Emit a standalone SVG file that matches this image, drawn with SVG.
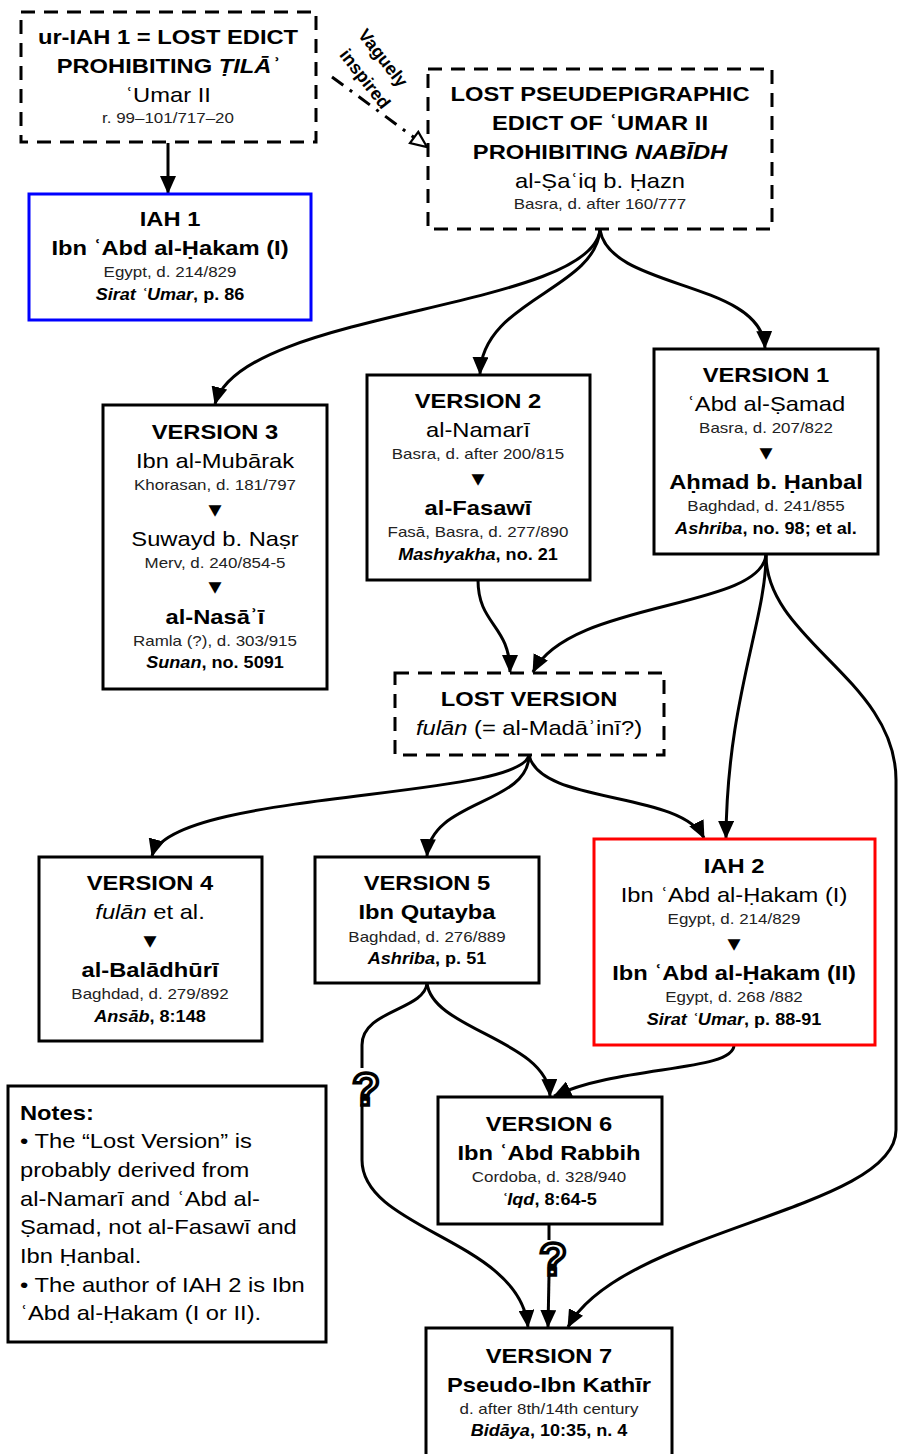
<svg xmlns="http://www.w3.org/2000/svg" width="898" height="1454" viewBox="0 0 898 1454">
<style>
text { font-family: "Liberation Sans", Arial, "DejaVu Sans", sans-serif; text-anchor: middle; fill: #000; }
.h { font-size: 21px; font-weight: bold; }
.n { font-size: 21px; }
.s { font-size: 15px; fill: #222; }
.c { font-size: 16px; font-weight: bold; }
.i { font-style: italic; }
.tri { font-family: "DejaVu Sans", sans-serif; font-size: 15px; }
.l { text-anchor: start; }
.box { fill: #fff; stroke: #000; stroke-width: 3; }
.dash { stroke-dasharray: 14 9; }
.blue { stroke: #0000ff; }
.red { stroke: #ff0000; }
.edge { fill: none; stroke: #000; stroke-width: 3; }
.arr { marker-end: url(#ah); }
.q { font-size: 46px; font-weight: bold; fill: #fff; stroke: #000; stroke-width: 3.5; }
.vi { font-size: 18px; font-weight: bold; }
</style>
<defs>
<marker id="ah" markerUnits="userSpaceOnUse" markerWidth="18" markerHeight="16" refX="17" refY="8" orient="auto">
<path d="M0,0 L18,8 L0,16 z" fill="#000"/>
</marker>
<marker id="oh" markerUnits="userSpaceOnUse" markerWidth="20" markerHeight="18" refX="18" refY="9" orient="auto">
<path d="M2,2 L18,9 L2,16 z" fill="#fff" stroke="#000" stroke-width="2.2"/>
</marker>
</defs>

<g id="connectors">
<path class="edge arr" d="M168,143 L168,193"/>
<path class="edge" d="M332,77 L427,147" stroke-dasharray="14 8 3 8" marker-end="url(#oh)"/>
<path class="edge arr" d="M600,230 C590,310 240,310 215,404"/>
<path class="edge arr" d="M600,230 C595,290 482,300 480,374"/>
<path class="edge arr" d="M600,230 C610,290 762,280 765,348"/>
<path class="edge arr" d="M478,580 C478,625 510,625 510,672"/>
<path class="edge arr" d="M766,555 C760,610 570,600 533,672"/>
<path class="edge arr" d="M766,555 C766,620 727,700 726,838"/>
<path class="edge arr" d="M766,555 C766,640 896,680 896,780 L896,1130 C896,1210 620,1230 568,1327"/>
<path class="edge arr" d="M529,755 C520,800 170,790 152,856"/>
<path class="edge arr" d="M529,755 C529,805 430,800 427,856"/>
<path class="edge arr" d="M529,755 C540,805 680,790 704,838"/>
<path class="edge arr" d="M427,983 C432,1030 548,1040 550,1096"/>
<path class="edge arr" d="M734,1045 C734,1072 620,1065 554,1096"/>
<path class="edge" d="M427,983 C425,1010 362,1010 362,1045 L362,1068"/>
<path class="edge arr" d="M362,1104 L362,1160 C362,1230 520,1240 528,1327"/>
<path class="edge" d="M549,1224 L549,1240"/>
<path class="edge arr" d="M549,1276 L548,1327"/>
<text class="q" x="366" y="1105">?</text>
<text class="q" x="553" y="1275">?</text>
<text class="vi" transform="translate(383 58) rotate(52)" y="6">Vaguely</text>
<text class="vi" transform="translate(365 79) rotate(52)" y="6">inspired</text>
</g>

<g id="ur-iah1">
<rect class="box dash" x="21" y="12" width="295" height="130"/>
<g transform="translate(168 0) scale(1.13 1)">
<text class="h" y="44.5">ur-IAH 1 = LOST EDICT</text>
<text class="h" y="73.5">PROHIBITING <tspan class="i">ṬILĀʾ</tspan></text>
<text class="n" y="102.5">ʿUmar II</text>
<text class="s" y="123.5">r. 99–101/717–20</text>
</g>
</g>

<g id="iah1">
<rect class="box blue" x="29" y="194" width="282" height="126"/>
<g transform="translate(170 0) scale(1.13 1)">
<text class="h" y="226.5">IAH 1</text>
<text class="h" y="255.5">Ibn ʿAbd al-Ḥakam (I)</text>
<text class="s" y="277.5">Egypt, d. 214/829</text>
<text class="c" y="300.5"><tspan class="i">Sirat ʿUmar</tspan>, p. 86</text>
</g>
</g>

<g id="lost-pseudepigraphic">
<rect class="box dash" x="428" y="69" width="344" height="160"/>
<g transform="translate(600 0) scale(1.13 1)">
<text class="h" y="101.5">LOST PSEUDEPIGRAPHIC</text>
<text class="h" y="130.5">EDICT OF ʿUMAR II</text>
<text class="h" y="159.5">PROHIBITING <tspan class="i">NABĪDH</tspan></text>
<text class="n" y="188.5">al-Ṣaʿiq b. Ḥazn</text>
<text class="s" y="209.5">Basra, d. after 160/777</text>
</g>
</g>

<g id="version3">
<rect class="box" x="103" y="405" width="224" height="284"/>
<g transform="translate(215 0) scale(1.13 1)">
<text class="h" y="439.5">VERSION 3</text>
<text class="n" y="468.5">Ibn al-Mubārak</text>
<text class="s" y="490.5">Khorasan, d. 181/797</text>
<text class="tri" y="515">▼</text>
<text class="n" y="546.5">Suwayd b. Naṣr</text>
<text class="s" y="568.5">Merv, d. 240/854-5</text>
<text class="tri" y="592">▼</text>
<text class="h" y="624.5">al-Nasāʾī</text>
<text class="s" y="646.5">Ramla (?), d. 303/915</text>
<text class="c" y="668"><tspan class="i">Sunan</tspan>, no. 5091</text>
</g>
</g>

<g id="version2">
<rect class="box" x="367" y="375" width="223" height="205"/>
<g transform="translate(478 0) scale(1.13 1)">
<text class="h" y="408.5">VERSION 2</text>
<text class="n" y="437.5">al-Namarī</text>
<text class="s" y="459.5">Basra, d. after 200/815</text>
<text class="tri" y="484">▼</text>
<text class="h" y="515.5">al-Fasawī</text>
<text class="s" y="537.5">Fasā, Basra, d. 277/890</text>
<text class="c" y="560"><tspan class="i">Mashyakha</tspan>, no. 21</text>
</g>
</g>

<g id="version1">
<rect class="box" x="654" y="349" width="224" height="205"/>
<g transform="translate(766 0) scale(1.13 1)">
<text class="h" y="382.5">VERSION 1</text>
<text class="n" y="411.5">ʿAbd al-Ṣamad</text>
<text class="s" y="433.5">Basra, d. 207/822</text>
<text class="tri" y="458">▼</text>
<text class="h" y="489.5">Aḥmad b. Ḥanbal</text>
<text class="s" y="511.5">Baghdad, d. 241/855</text>
<text class="c" y="534"><tspan class="i">Ashriba</tspan>, no. 98; et al.</text>
</g>
</g>

<g id="lost-version">
<rect class="box dash" x="395" y="673" width="269" height="82"/>
<g transform="translate(529 0) scale(1.13 1)">
<text class="h" y="706.5">LOST VERSION</text>
<text class="n" y="735.5"><tspan class="i">fulān</tspan> (= al-Madāʾinī?)</text>
</g>
</g>

<g id="version4">
<rect class="box" x="39" y="857" width="223" height="184"/>
<g transform="translate(150 0) scale(1.13 1)">
<text class="h" y="890.5">VERSION 4</text>
<text class="n" y="919.5"><tspan class="i">fulān</tspan> et al.</text>
<text class="tri" y="946">▼</text>
<text class="h" y="977.5">al-Balādhūrī</text>
<text class="s" y="999.5">Baghdad, d. 279/892</text>
<text class="c" y="1022"><tspan class="i">Ansāb</tspan>, 8:148</text>
</g>
</g>

<g id="version5">
<rect class="box" x="315" y="857" width="224" height="126"/>
<g transform="translate(427 0) scale(1.13 1)">
<text class="h" y="890.5">VERSION 5</text>
<text class="h" y="919.5">Ibn Qutayba</text>
<text class="s" y="942.5">Baghdad, d. 276/889</text>
<text class="c" y="964"><tspan class="i">Ashriba</tspan>, p. 51</text>
</g>
</g>

<g id="iah2">
<rect class="box red" x="594" y="839" width="281" height="206"/>
<g transform="translate(734 0) scale(1.13 1)">
<text class="h" y="873.5">IAH 2</text>
<text class="n" y="902.5">Ibn ʿAbd al-Ḥakam (I)</text>
<text class="s" y="924.5">Egypt, d. 214/829</text>
<text class="tri" y="949">▼</text>
<text class="h" y="980.5">Ibn ʿAbd al-Ḥakam (II)</text>
<text class="s" y="1002.5">Egypt, d. 268 /882</text>
<text class="c" y="1025"><tspan class="i">Sirat ʿUmar</tspan>, p. 88-91</text>
</g>
</g>

<g id="notes">
<rect class="box" x="8" y="1086" width="318" height="256"/>
<g transform="translate(20 0) scale(1.13 1)">
<text class="h l" y="1120.5">Notes:</text>
<text class="n l" y="1148.5">• The “Lost Version” is</text>
<text class="n l" y="1177.5">probably derived from</text>
<text class="n l" y="1206.5">al-Namarī and ʿAbd al-</text>
<text class="n l" y="1234.5">Ṣamad, not al-Fasawī and</text>
<text class="n l" y="1263.5">Ibn Ḥanbal.</text>
<text class="n l" y="1292.5">• The author of IAH 2 is Ibn</text>
<text class="n l" y="1320.5">ʿAbd al-Ḥakam (I or II).</text>
</g>
</g>

<g id="version6">
<rect class="box" x="438" y="1097" width="224" height="127"/>
<g transform="translate(549 0) scale(1.13 1)">
<text class="h" y="1131.5">VERSION 6</text>
<text class="h" y="1160.5">Ibn ʿAbd Rabbih</text>
<text class="s" y="1182.5">Cordoba, d. 328/940</text>
<text class="c" y="1205"><tspan class="i">ʿIqd</tspan>, 8:64-5</text>
</g>
</g>

<g id="version7">
<rect class="box" x="426" y="1328" width="246" height="130"/>
<g transform="translate(549 0) scale(1.13 1)">
<text class="h" y="1363.5">VERSION 7</text>
<text class="h" y="1392.5">Pseudo-Ibn Kathīr</text>
<text class="s" y="1414.5">d. after 8th/14th century</text>
<text class="c" y="1436"><tspan class="i">Bidāya</tspan>, 10:35, n. 4</text>
</g>
</g>
</svg>
